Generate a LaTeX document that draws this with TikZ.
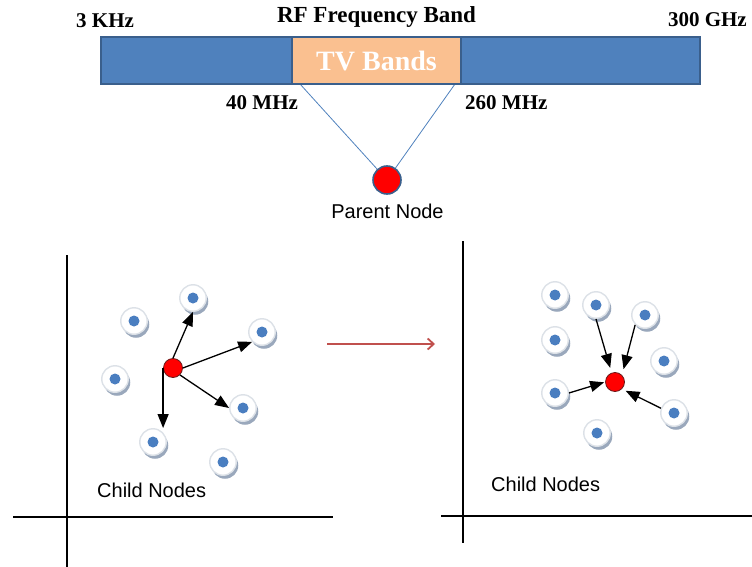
\documentclass[tikz,border=0pt]{standalone}
\usepackage{fontspec}
\setmainfont{Liberation Serif}
\newfontfamily\labelsans{Liberation Sans}
\usetikzlibrary{arrows.meta,shadows,backgrounds}

\definecolor{barblue}{HTML}{4F81BD}
\definecolor{baredge}{HTML}{3A5F8C}
\definecolor{tvorange}{HTML}{FAC090}
\definecolor{dotblue}{HTML}{4A7EC0}
\definecolor{shadowgray}{HTML}{9AA8BC}
\definecolor{ringgray}{HTML}{DCE1E7}
\definecolor{arrowred}{HTML}{C0504D}
\definecolor{rededge}{HTML}{6B1A1A}

\tikzset{
  band/.style={rectangle, draw=baredge, line width=1.5pt, inner sep=0},
  freqlabel/.style={font=\fontsize{21}{21}\selectfont\bfseries, inner sep=0},
  sanslabel/.style={font=\labelsans\fontsize{20}{20}\selectfont, inner sep=0},
  member/.style={circle, minimum size=26.5pt, inner sep=0,
    fill=white, draw=ringgray, line width=1.4pt,
    drop shadow={shadow xshift=2pt, shadow yshift=-3.5pt, fill=shadowgray, opacity=1},
    path picture={\fill[dotblue] (path picture bounding box.center) circle (5.5pt);}},
  hub/.style={circle, minimum size=19pt, inner sep=0, fill=red, draw=rededge, line width=0.8pt},
  link/.style={draw=black, line width=1.3pt, -{Triangle[length=14pt,width=11pt]}},
  axis/.style={draw=black, line width=1.1pt}
}

\begin{document}
\begin{tikzpicture}[x=1pt, y=-1pt]
  \useasboundingbox (0,0) rectangle (752,567);

  % frequency band bar
  \node[band, fill=barblue, minimum width=599pt, minimum height=47pt] (rf) at (400.5,60.5) {};
  \node[band, fill=tvorange, minimum width=169pt, minimum height=47pt,
        font=\fontsize{28}{28}\selectfont\bfseries, text=white] (tv) at (376.5,60.5) {TV Bands};

  \node[freqlabel, font=\fontsize{23}{23}\selectfont\bfseries, anchor=base] (title) at (376.5,23) {RF Frequency Band};
  \node[freqlabel, anchor=base west] (low) at (76,28) {3 KHz};
  \node[freqlabel, anchor=base east] (high) at (747,27) {300 GHz};
  \node[freqlabel, anchor=base west] (tvlow) at (226,110) {40 MHz};
  \node[freqlabel, anchor=base west] (tvhigh) at (465,110) {260 MHz};

  % parent node fed by the TV bands
  \node[circle, minimum size=28pt, inner sep=0, fill=red, draw=baredge, line width=1.6pt] (parent) at (387,180) {};
  \node[sanslabel, anchor=base] (parentlbl) at (387.5,218) {Parent Node};
  \coordinate (tvl) at (300,84);
  \coordinate (tvr) at (455,84);
  \begin{scope}[on background layer]
    \draw[barblue, line width=0.8pt] (tvl) -- (parent.center);
    \draw[barblue, line width=0.8pt] (tvr) -- (parent.center);
  \end{scope}

  % left panel axes
  \coordinate (lvt) at (67,255);
  \coordinate (lvb) at (67,567);
  \coordinate (lhl) at (13,517);
  \coordinate (lhr) at (333,517);
  \draw[axis] (lvt) -- (lvb);
  \draw[axis] (lhl) -- (lhr);

  % right panel axes
  \coordinate (rvt) at (463,241);
  \coordinate (rvb) at (463,543);
  \coordinate (rhl) at (441,516);
  \coordinate (rhr) at (752,516);
  \draw[axis] (rvt) -- (rvb);
  \draw[axis] (rhl) -- (rhr);

  % left cluster: hub sending to members
  \node[member] (la) at (193,298) {};
  \node[member] (lb) at (134,321) {};
  \node[member] (lc) at (262,332) {};
  \node[member] (ld) at (115,379) {};
  \node[member] (le) at (243,408) {};
  \node[member] (lf) at (153,442) {};
  \node[member] (lg) at (223,462) {};
  \node[hub] (lr) at (173,368) {};
  \draw[link] (lr.north) -- (la.south);
  \draw[link] (lr.east) -- (lc.south west);
  \draw[link] (lr.south east) -- (le.west);
  \draw[link] (lr.west) -- (lr.west |- lf.north);
  \node[sanslabel, anchor=base west] (leftlbl) at (97,497) {Child Nodes};

  % transition arrow
  \coordinate (ta) at (327,344);
  \coordinate (tb) at (435,344);
  \draw[arrowred, line width=1.8pt, -{Straight Barb[length=6pt,width=11pt,line width=1.8pt]}] (ta) -- (tb);

  % right cluster: members sending to hub
  \node[member] (ra) at (555,295) {};
  \node[member] (rb) at (596,305) {};
  \node[member] (rc) at (645,315) {};
  \node[member] (rd) at (555,340) {};
  \node[member] (re) at (664,361) {};
  \node[member] (rf2) at (555,393) {};
  \node[member] (rg) at (674,413) {};
  \node[member] (rh) at (597,433) {};
  \node[hub] (rr) at (615,382) {};
  \draw[link, shorten >=5pt] (rb.south) -- (rr.110);
  \draw[link, shorten >=6pt] (rc.south west) -- (rr.north east);
  \draw[link, shorten >=1pt] (rf2.east) -- (rr.west);
  \draw[link, shorten >=4pt] (rg.160) -- (rr.south east);
  \node[sanslabel, anchor=base west] (rightlbl) at (491,491) {Child Nodes};
\end{tikzpicture}
\end{document}
